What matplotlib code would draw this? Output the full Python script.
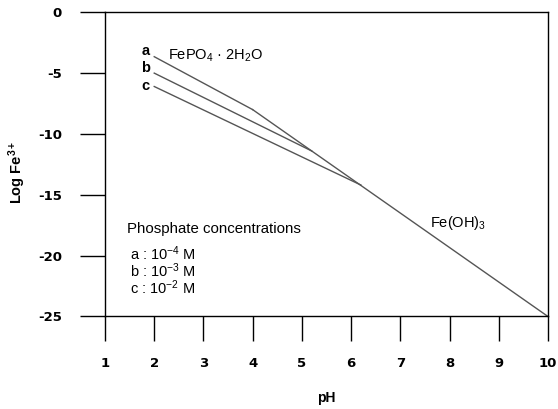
import matplotlib
matplotlib.use("Agg")
import matplotlib.pyplot as plt

plt.rcParams['font.family'] = ['Liberation Sans', 'DejaVu Sans']
plt.rcParams['mathtext.default'] = 'regular'

# Data
line_a_x = [2.0, 4.0]
line_a_y = [-3.65, -8.0]
line_b_x = [2.0, 5.2]
line_b_y = [-5.0, -11.4]
line_c_x = [2.0, 6.2]
line_c_y = [-6.1, -14.2]
feoh_x = [4.0, 10.0]
feoh_y = [-8.0, -25.0]

xticks = [1, 2, 3, 4, 5, 6, 7, 8, 9, 10]
yticks = [0, -5, -10, -15, -20, -25]

fig = plt.figure(figsize=(5.58, 4.09), dpi=100)
ax = fig.add_axes([0.1882, 0.2262, 0.7938, 0.7438])

lc = '#555555'
for xs, ys in [(line_a_x, line_a_y), (line_b_x, line_b_y), (line_c_x, line_c_y), (feoh_x, feoh_y)]:
    ax.plot(xs, ys, color=lc, lw=1.0)

ax.set_xlim(1, 10)
ax.set_ylim(-25, 0)
ax.set_xticks(xticks)
ax.set_yticks(yticks)
tfont = dict(family=['DejaVu Sans'], fontweight='bold', fontsize=9.5)
ax.set_xticklabels([str(t) for t in xticks], **tfont)
ax.set_yticklabels([str(t) for t in yticks], **tfont)
ax.tick_params(axis='both', direction='out', length=18, width=1, color='black')
ax.tick_params(axis='x', pad=11)
ax.tick_params(axis='y', pad=13)
for s in ax.spines.values():
    s.set_linewidth(1)
    s.set_color('black')

ax.set_xlabel('pH', fontsize=10, fontweight='bold', labelpad=15)
ax.set_ylabel('Log Fe$^{3+}$', fontsize=10.5, fontweight='bold')
ax.yaxis.set_label_coords(-0.175, 0.475)

ax.text(1.82, -3.2, 'a', fontsize=10.5, fontweight='bold', ha='center', va='center')
ax.text(1.82, -4.6, 'b', fontsize=10.5, fontweight='bold', ha='center', va='center')
ax.text(1.82, -6.1, 'c', fontsize=10.5, fontweight='bold', ha='center', va='center')
ax.text(2.28, -3.6, 'FePO$_4$ · 2H$_2$O', fontsize=10.5, ha='left', va='center')
ax.text(7.6, -17.3, 'Fe(OH)$_3$', fontsize=10.5, ha='left', va='center')
ax.text(1.44, -17.85, 'Phosphate concentrations', fontsize=10.8, ha='left', va='center')
ax.text(1.5, -19.85, 'a : 10$^{-4}$ M', fontsize=10.5, ha='left', va='center')
ax.text(1.5, -21.25, 'b : 10$^{-3}$ M', fontsize=10.5, ha='left', va='center')
ax.text(1.5, -22.65, 'c : 10$^{-2}$ M', fontsize=10.5, ha='left', va='center')

fig.savefig('out.png', dpi=100)
